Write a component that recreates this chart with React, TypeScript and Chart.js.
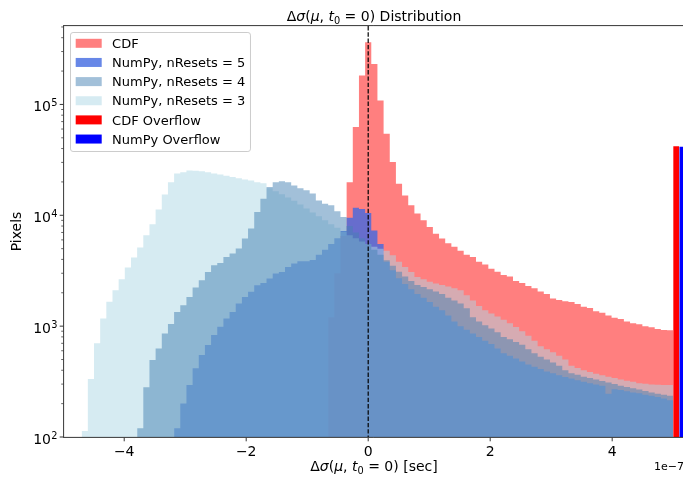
import React, { useEffect, useRef } from "react";
import { Chart, registerables } from "chart.js";

Chart.register(...registerables);

// Histogram binning (x in units of 1e-7 s): 99 equal bins on [-5, 5]
const BIN_LOW = -5;
const BIN_HIGH = 5;
const BIN_COUNT = 99;

// CDF counts, starting at bin index cdfFirstBin
const cdfFirstBin = 43;
const cdfCounts = [
  1200, 3000, 6500,
  19900, 62500, 182000, 364000, 232000, 108700, 54400, 30200, 19300, 15100,
  12300, 10400, 9000, 7840, 6800, 6170, 5600, 5200, 4800, 4400,
  4200, 3800, 3600, 3300, 3100, 2900, 2800, 2550, 2450, 2300,
  2200, 2050, 1950, 1780, 1720, 1680, 1650, 1580, 1500, 1460,
  1360, 1320, 1250, 1190, 1160, 1100, 1060, 1040, 1000, 975,
  940, 925, 920,
];

// NumPy, nResets = 5
const n5FirstBin = 18;
const n5Counts = [
  120, 201, 294, 416, 548, 675, 830, 986, 1170, 1345,
  1600, 1836, 2040, 2340, 2450, 2690, 2990, 3080, 3420, 3670,
  3850, 3850, 3950, 4400, 4900, 5500, 6200, 7200, 9500, 11700,
  11400, 10500, 7300, 5500, 3800, 3200, 2700, 2400, 2150, 1950,
  1800, 1650, 1500, 1390, 1250, 1100, 1000, 930, 860, 800,
  740, 690, 630, 570, 540, 510, 480, 450, 430, 410,
  390, 375, 360, 348, 337, 325, 315, 305, 298, 290,
  245, 270, 265, 258, 252, 248, 240, 236, 230, 222,
  215,
];

// NumPy, nResets = 4
const n4FirstBin = 12;
const n4Counts = [
  120, 281, 494, 630, 859, 1043, 1345, 1546, 1836, 2230,
  2600, 3080, 3550, 3720, 4210, 4520, 5020, 6170, 7590, 10700,
  14100, 18000, 19900, 20300, 19900, 18600, 17500, 16800, 15700, 13600,
  12700, 12300, 10900, 9650, 8000, 7000, 6200, 5500, 4900, 4400,
  3940, 3500, 3100, 2800, 2550, 2350, 2250, 2150, 2050, 1950,
  1800, 1700, 1600, 1450, 1200, 1100, 1020, 950, 880, 800,
  760, 720, 680, 620, 570, 530, 500, 470, 440, 400,
  376, 365, 350, 340, 330, 320, 310, 300, 290, 282,
  275, 268, 260, 252, 245, 240, 235,
];

// NumPy, nResets = 3
const n3FirstBin = 3;
const n3Counts = [
  113, 333, 700, 1170, 1660, 2110, 2650, 3380, 4160, 5120,
  6600, 8300, 11250, 15400, 19900, 23800, 24400, 25400, 25200, 24900,
  24400, 23800, 23300, 22700, 22200, 21600, 21000, 20600, 19900, 19500,
  17500, 16500, 15500, 14500, 13500, 12500, 11500, 10600, 9800, 9000,
  8300, 7700, 7100, 6600, 6200, 5800, 5500, 5200, 5000, 4800,
  4360, 3800, 3420, 3080, 2780, 2650, 2520, 2420, 2350, 2280,
  2200, 2110, 1900, 1700, 1520, 1390, 1300, 1220, 1140, 1060,
  980, 900, 820, 740, 660, 620, 580, 540, 500, 440,
  420, 400, 385, 372, 360, 350, 340, 330, 322, 315,
  306, 302, 298, 296, 294, 294,
];

// Overflow bins
const overflowCdfRange = [5.0, 5.1];
const overflowCdfCount = 42000;
const overflowNumPyRange = [5.1, 5.2];
const overflowNumPyCount = 41500;

// Axes
const X_MIN = -4.987;
const X_MAX = 5.161;
const Y_MIN = 100;
const Y_MAX = 5.1e5;
const xTickValues = [-4, -2, 0, 2, 4];
const xTickLabels = ["\u22124", "\u22122", "0", "2", "4"];
const yMajorExponents = [2, 3, 4, 5];

const COLORS = {
  cdf: "rgba(255, 0, 0, 0.5)",
  n5: "rgba(65, 105, 225, 0.8)",
  n4: "rgba(70, 130, 180, 0.5)",
  n3: "rgba(173, 216, 230, 0.5)",
  cdfOverflow: "rgb(255, 0, 0)",
  numpyOverflow: "rgb(0, 0, 255)",
};

const legendItems = [
  { label: "CDF", color: COLORS.cdf },
  { label: "NumPy, nResets = 5", color: COLORS.n5 },
  { label: "NumPy, nResets = 4", color: COLORS.n4 },
  { label: "NumPy, nResets = 3", color: COLORS.n3 },
  { label: "CDF Overflow", color: COLORS.cdfOverflow },
  { label: "NumPy Overflow", color: COLORS.numpyOverflow },
];

const FONT = "'DejaVu Sans', 'Liberation Sans', sans-serif";

const binEdge = (k: number) => BIN_LOW + ((BIN_HIGH - BIN_LOW) * k) / BIN_COUNT;

function histPoints(first: number, counts: number[]) {
  const pts = counts.map((c, i) => ({ x: binEdge(first + i), y: c }));
  pts.push({ x: binEdge(first + counts.length), y: counts[counts.length - 1] });
  return pts;
}

function barPoints(range: number[], count: number) {
  return [
    { x: range[0], y: count },
    { x: range[1], y: count },
  ];
}

type Part = [string, "n" | "i" | "s"];

function partFont(style: string, size: number) {
  if (style === "i") return `italic ${size}px ${FONT}`;
  if (style === "s") return `${size * 0.7}px ${FONT}`;
  return `${size}px ${FONT}`;
}

function drawMath(ctx: CanvasRenderingContext2D, parts: Part[], cx: number, baseline: number, size: number) {
  let total = 0;
  const widths: number[] = [];
  for (const [t, s] of parts) {
    ctx.font = partFont(s, size);
    const w = ctx.measureText(t).width;
    widths.push(w);
    total += w;
  }
  let x = cx - total / 2;
  ctx.textAlign = "left";
  ctx.textBaseline = "alphabetic";
  parts.forEach(([t, s], i) => {
    ctx.font = partFont(s, size);
    ctx.fillText(t, x, s === "s" ? baseline + size * 0.22 : baseline);
    x += widths[i];
  });
}

const mathHead: Part[] = [
  ["\u0394", "n"],
  ["\u03c3", "i"],
  ["(", "n"],
  ["\u03bc", "i"],
  [", ", "n"],
  ["t", "i"],
  ["0", "s"],
  [" = 0)", "n"],
];

const decorPlugin = {
  id: "decor",
  afterDraw(chart: any) {
    const { ctx, chartArea: a, scales } = chart;
    const xs = scales.x;
    const ys = scales.y;
    ctx.save();

    // dashed vertical line at x = 0
    const x0 = xs.getPixelForValue(0);
    ctx.strokeStyle = "#000";
    ctx.lineWidth = 1.2;
    ctx.setLineDash([4.4, 1.9]);
    ctx.beginPath();
    ctx.moveTo(x0, a.top);
    ctx.lineTo(x0, a.bottom);
    ctx.stroke();
    ctx.setLineDash([]);

    // spines
    ctx.lineWidth = 0.8;
    ctx.beginPath();
    ctx.moveTo(a.left - 0.4, a.top - 0.4);
    ctx.lineTo(a.left - 0.4, a.bottom + 0.4);
    ctx.moveTo(a.left - 0.8, a.bottom + 0.4);
    ctx.lineTo(a.right, a.bottom + 0.4);
    ctx.moveTo(a.left - 0.8, a.top - 0.4);
    ctx.lineTo(a.right, a.top - 0.4);
    ctx.stroke();

    // x ticks and labels
    ctx.fillStyle = "#000";
    xTickValues.forEach((v, i) => {
      const px = xs.getPixelForValue(v);
      ctx.lineWidth = 0.8;
      ctx.beginPath();
      ctx.moveTo(px, a.bottom + 0.8);
      ctx.lineTo(px, a.bottom + 4.3);
      ctx.stroke();
      ctx.font = `14px ${FONT}`;
      ctx.textAlign = "center";
      ctx.textBaseline = "alphabetic";
      ctx.fillText(xTickLabels[i], px, 456);
    });

    // y ticks (major + minor) and labels
    for (let e = 2; e <= 5; e++) {
      for (let m = 1; m <= 9; m++) {
        const v = m * Math.pow(10, e);
        if (v < Y_MIN || v > Y_MAX) continue;
        const py = ys.getPixelForValue(v);
        const len = m === 1 ? 3.5 : 2;
        ctx.lineWidth = m === 1 ? 0.8 : 0.6;
        ctx.beginPath();
        ctx.moveTo(a.left - 0.8, py);
        ctx.lineTo(a.left - 0.8 - len, py);
        ctx.stroke();
      }
    }
    yMajorExponents.forEach((e) => {
      const py = ys.getPixelForValue(Math.pow(10, e));
      ctx.font = `14px ${FONT}`;
      const wBase = ctx.measureText("10").width;
      ctx.font = `9.8px ${FONT}`;
      const wExp = ctx.measureText(String(e)).width;
      const right = 57.2;
      const x1 = right - wExp - wBase;
      ctx.textAlign = "left";
      ctx.font = `14px ${FONT}`;
      ctx.fillText("10", x1, py + 7);
      ctx.font = `9.8px ${FONT}`;
      ctx.fillText(String(e), x1 + wBase + 0.3, py + 1.5);
    });

    // axis labels and title
    drawMath(ctx, [...mathHead, [" [sec]", "n"]], (a.left + 684) / 2, 471, 14);
    drawMath(ctx, [...mathHead, [" Distribution", "n"]], (a.left + 684) / 2, 20.5, 14);

    ctx.save();
    ctx.translate(21, (a.top + a.bottom) / 2);
    ctx.rotate(-Math.PI / 2);
    ctx.font = `14px ${FONT}`;
    ctx.textAlign = "center";
    ctx.fillText("Pixels", 0, 0);
    ctx.restore();

    // offset text
    ctx.font = `11px ${FONT}`;
    ctx.textAlign = "right";
    ctx.fillText("1e\u22127", 684, 470);

    // legend
    const fs = 13;
    ctx.font = `${fs}px ${FONT}`;
    let maxW = 0;
    legendItems.forEach((it) => {
      maxW = Math.max(maxW, ctx.measureText(it.label).width);
    });
    const lx = a.left + 6.5;
    const ly = a.top + 6.5;
    const lw = 5.2 + 26 + 10.4 + maxW + 5.2;
    const pitch = 19.15;
    const lh = 119;
    const r = 2.6;
    ctx.beginPath();
    ctx.moveTo(lx + r, ly);
    ctx.lineTo(lx + lw - r, ly);
    ctx.arcTo(lx + lw, ly, lx + lw, ly + r, r);
    ctx.lineTo(lx + lw, ly + lh - r);
    ctx.arcTo(lx + lw, ly + lh, lx + lw - r, ly + lh, r);
    ctx.lineTo(lx + r, ly + lh);
    ctx.arcTo(lx, ly + lh, lx, ly + lh - r, r);
    ctx.lineTo(lx, ly + r);
    ctx.arcTo(lx, ly, lx + r, ly, r);
    ctx.closePath();
    ctx.fillStyle = "rgba(255,255,255,0.8)";
    ctx.fill();
    ctx.strokeStyle = "#cccccc";
    ctx.lineWidth = 1;
    ctx.stroke();
    legendItems.forEach((it, i) => {
      const cy = ly + 10.8 + i * pitch;
      ctx.fillStyle = it.color;
      ctx.fillRect(lx + 5.2, cy - 4.5, 26, 9);
      ctx.fillStyle = "#000";
      ctx.font = `${fs}px ${FONT}`;
      ctx.textAlign = "left";
      ctx.fillText(it.label, lx + 5.2 + 26 + 10.4, cy + 4.7);
    });

    ctx.restore();
  },
};

function histDataset(label: string, data: any[], color: string, order: number) {
  return {
    label,
    data,
    stepped: "before" as const,
    fill: "start",
    backgroundColor: color,
    borderColor: "rgba(0,0,0,0)",
    borderWidth: 0,
    pointRadius: 0,
    pointHoverRadius: 0,
    order,
  };
}

export default function App() {
  const ref = useRef<HTMLCanvasElement>(null);
  useEffect(() => {
    if (!ref.current) return;
    const chart = new Chart(ref.current, {
      type: "line",
      data: {
        datasets: [
          histDataset("CDF Overflow", barPoints(overflowCdfRange, overflowCdfCount), COLORS.cdfOverflow, 0),
          histDataset("NumPy Overflow", barPoints(overflowNumPyRange, overflowNumPyCount), COLORS.numpyOverflow, 0),
          histDataset("NumPy, nResets = 4", histPoints(n4FirstBin, n4Counts), COLORS.n4, 1),
          histDataset("NumPy, nResets = 3", histPoints(n3FirstBin, n3Counts), COLORS.n3, 2),
          histDataset("NumPy, nResets = 5", histPoints(n5FirstBin, n5Counts), COLORS.n5, 3),
          histDataset("CDF", histPoints(cdfFirstBin, cdfCounts), COLORS.cdf, 4),
        ] as any,
      },
      options: {
        animation: false,
        responsive: false,
        devicePixelRatio: 1,
        events: [],
        layout: { padding: { left: 64, top: 26, right: 0, bottom: 44 } },
        plugins: {
          legend: { display: false },
          tooltip: { enabled: false },
          title: { display: false },
        },
        scales: {
          x: { type: "linear", display: false, min: X_MIN, max: X_MAX },
          y: { type: "logarithmic", display: false, min: Y_MIN, max: Y_MAX },
        },
      } as any,
      plugins: [decorPlugin],
    });
    return () => chart.destroy();
  }, []);
  return (
    <div style={{ position: "fixed", left: 0, top: 0, width: 683, height: 481, background: "#fff" }}>
      <canvas ref={ref} width={683} height={481} style={{ display: "block", width: 683, height: 481 }} />
    </div>
  );
}
